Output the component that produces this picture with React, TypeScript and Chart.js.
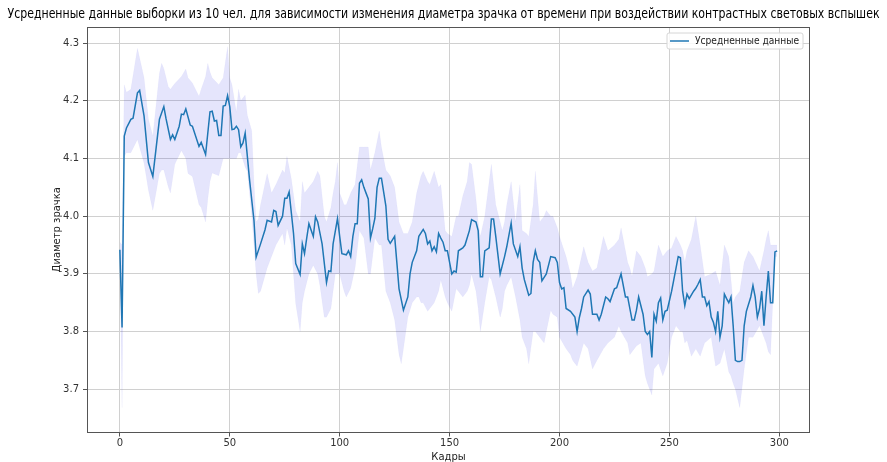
import React, { useEffect, useRef } from "react";
import { Chart, registerables } from "chart.js";

Chart.register(...registerables);

const chartTitle =
  "Усредненные данные выборки из 10 чел. для зависимости изменения диаметра зрачка от времени при воздействии контрастных световых вспышек";
const xAxisTitle = "Кадры";
const yAxisTitle = "Диаметр зрачка";
const seriesLabel = "Усредненные данные";

const xTicks = [0, 50, 100, 150, 200, 250, 300];
const yTicks = [3.7, 3.8, 3.9, 4.0, 4.1, 4.2, 4.3];

// mean line: frame numbers and values
const frames = [
  0, 1, 2, 3, 5, 6, 8, 9, 11, 13, 15, 18, 20, 21, 23, 24, 25, 27, 28, 29, 30, 32, 33, 36, 37, 39,
  41, 42, 43, 44, 45, 46, 47, 48, 49, 50, 51, 52, 53, 54, 55, 56, 57, 59, 61, 62, 64, 66, 67, 69,
  70, 71, 72, 74, 75, 76, 77, 79, 80, 82, 83, 84, 85, 86, 88, 89, 90, 92, 94, 95, 96, 97, 99, 100,
  101, 103, 104, 105, 106, 107, 108, 109, 110, 111, 112, 113, 114, 115, 116, 117, 118, 119, 121,
  122, 123, 125, 126, 127, 129, 131, 132, 133, 135, 136, 138, 139, 140, 141, 142, 143, 144, 145,
  146, 147, 148, 149, 150, 151, 152, 153, 154, 156, 157, 159, 160, 162, 163, 164, 165, 166, 168,
  169, 170, 171, 173, 175, 176, 178, 179, 181, 182, 183, 184, 186, 187, 188, 189, 190, 191, 192,
  194, 196, 198, 199, 200, 201, 202, 203, 205, 207, 208, 209, 210, 211, 213, 214, 215, 217, 218,
  219, 221, 222, 223, 225, 226, 227, 228, 230, 231, 233, 234, 235, 236, 238, 239, 240, 241, 242,
  243, 244, 245, 246, 247, 248, 249, 251, 252, 253, 254, 255, 256, 257, 258, 259, 261, 262, 263,
  264, 265, 266, 267, 268, 269, 270, 271, 272, 273, 274, 275, 276, 277, 278, 279, 280, 281, 282,
  283, 284, 285, 287, 288, 289, 290, 291, 292, 293, 294, 295, 296, 297, 298, 299,
];
const meanValues = [
  3.942, 3.807, 4.139, 4.153, 4.168, 4.17, 4.214, 4.218, 4.174, 4.093, 4.069, 4.168, 4.19, 4.169,
  4.133, 4.141, 4.133, 4.156, 4.177, 4.176, 4.186, 4.158, 4.156, 4.121, 4.128, 4.107, 4.181, 4.182,
  4.165, 4.166, 4.14, 4.14, 4.191, 4.192, 4.209, 4.19, 4.15, 4.151, 4.156, 4.15, 4.12, 4.127, 4.144,
  4.063, 3.993, 3.929, 3.952, 3.976, 3.993, 3.99, 4.01, 4.008, 3.984, 4.0, 4.031, 4.031, 4.042, 3.97,
  3.918, 3.899, 3.952, 3.935, 3.962, 3.987, 3.965, 3.999, 3.99, 3.952, 3.885, 3.905, 3.904, 3.952,
  3.996, 3.965, 3.935, 3.933, 3.94, 3.93, 3.965, 3.987, 3.987, 4.057, 4.063, 4.05, 4.04, 4.03,
  3.962, 3.978, 3.996, 4.05, 4.066, 4.066, 4.018, 3.96, 3.953, 3.965, 3.92, 3.874, 3.837, 3.86, 3.9,
  3.92, 3.94, 3.965, 3.977, 3.97, 3.952, 3.957, 3.94, 3.947, 3.938, 3.97, 3.962, 3.955, 3.94, 3.94,
  3.92, 3.9, 3.905, 3.903, 3.94, 3.945, 3.95, 3.975, 3.994, 3.99, 3.975, 3.895, 3.895, 3.94, 3.945,
  3.995, 3.995, 3.965, 3.9, 3.93, 3.947, 3.988, 3.952, 3.93, 3.947, 3.91, 3.89, 3.863, 3.866, 3.92,
  3.94, 3.925, 3.92, 3.888, 3.9, 3.93, 3.928, 3.92, 3.885, 3.874, 3.876, 3.84, 3.835, 3.825, 3.8,
  3.824, 3.84, 3.86, 3.872, 3.865, 3.83, 3.83, 3.82, 3.83, 3.86, 3.857, 3.852, 3.874, 3.876, 3.888,
  3.9, 3.86, 3.86, 3.82, 3.82, 3.837, 3.86, 3.83, 3.8, 3.795, 3.8, 3.755, 3.83, 3.818, 3.85, 3.858,
  3.82, 3.835, 3.837, 3.87, 3.89, 3.91, 3.93, 3.928, 3.87, 3.845, 3.865, 3.857, 3.87, 3.875, 3.882,
  3.89, 3.86, 3.86, 3.845, 3.852, 3.825, 3.816, 3.8, 3.835, 3.79, 3.81, 3.865, 3.857, 3.85, 3.86,
  3.81, 3.75, 3.748, 3.748, 3.75, 3.81, 3.835, 3.86, 3.88, 3.86, 3.825, 3.84, 3.87, 3.81, 3.86,
  3.905, 3.85, 3.85, 3.938, 3.94,
];

// shaded band: frame numbers, lower and upper edges
const bandFrames = [
  0, 1, 2, 3, 5, 8, 11, 13, 15, 18, 19, 20, 22, 23, 25, 28, 30, 31, 33, 36, 37, 39, 40, 41, 42, 45,
  47, 49, 50, 51, 53, 54, 55, 57, 58, 60, 61, 62, 63, 64, 67, 69, 71, 74, 75, 76, 78, 80, 82, 83,
  84, 86, 88, 90, 91, 93, 94, 96, 97, 98, 99, 100, 102, 103, 105, 107, 109, 111, 113, 114, 116, 118,
  119, 121, 123, 125, 127, 128, 129, 131, 133, 135, 136, 137, 138, 140, 141, 143, 145, 146, 148,
  149, 151, 153, 154, 156, 158, 159, 160, 162, 163, 164, 166, 168, 169, 171, 173, 174, 175, 176,
  178, 180, 182, 183, 185, 186, 188, 189, 191, 193, 194, 196, 197, 199, 200, 203, 205, 206, 208,
  211, 213, 215, 217, 220, 222, 225, 227, 228, 231, 232, 233, 235, 237, 239, 240, 242, 243, 245,
  247, 249, 251, 253, 255, 256, 257, 258, 260, 262, 264, 266, 269, 271, 273, 275, 277, 278, 279,
  280, 282, 284, 286, 287, 288, 291, 293, 294, 295, 296, 297, 298, 299,
];
const bandLow = [
  3.93, 3.668, 4.104, 4.11, 4.11, 4.133, 4.092, 4.045, 4.01, 4.074, 4.08, 4.08, 4.051, 4.04, 4.09,
  4.114, 4.1, 4.074, 4.069, 4.02, 4.015, 3.99, 4.03, 4.06, 4.075, 4.07, 4.1, 4.1, 4.1, 4.1, 4.1,
  4.11, 4.11, 4.085, 4.078, 4.0, 3.95, 3.9, 3.866, 3.87, 3.91, 3.93, 3.95, 3.97, 3.95, 3.98, 3.95,
  3.848, 3.8, 3.85, 3.87, 3.9, 3.915, 3.9, 3.88, 3.825, 3.825, 3.84, 3.87, 3.9, 3.9, 3.9, 3.87,
  3.86, 3.875, 3.91, 3.975, 3.962, 3.9, 3.9, 3.962, 3.95, 3.95, 3.87, 3.85, 3.82, 3.76, 3.744, 3.77,
  3.825, 3.85, 3.86, 3.86, 3.85, 3.85, 3.835, 3.84, 3.85, 3.87, 3.89, 3.86, 3.85, 3.835, 3.874,
  3.87, 3.86, 3.87, 3.88, 3.9, 3.87, 3.84, 3.8, 3.85, 3.895, 3.89, 3.86, 3.825, 3.84, 3.87, 3.88,
  3.895, 3.86, 3.82, 3.79, 3.77, 3.744, 3.8, 3.8, 3.79, 3.78, 3.8, 3.837, 3.83, 3.825, 3.79, 3.77,
  3.76, 3.75, 3.74, 3.78, 3.77, 3.735, 3.75, 3.77, 3.78, 3.79, 3.81, 3.8, 3.78, 3.76, 3.765, 3.775,
  3.78, 3.723, 3.71, 3.69, 3.735, 3.745, 3.723, 3.745, 3.79, 3.81, 3.8, 3.8, 3.78, 3.785, 3.757,
  3.77, 3.757, 3.78, 3.79, 3.74, 3.745, 3.77, 3.73, 3.723, 3.71, 3.7, 3.668, 3.735, 3.79, 3.79,
  3.79, 3.81, 3.79, 3.78, 3.765, 3.76, 3.85, 3.93, 3.93,
];
const bandHigh = [
  3.955, 3.95, 4.228, 4.215, 4.22, 4.291, 4.24, 4.168, 4.139, 4.248, 4.265, 4.256, 4.225, 4.22, 4.23,
  4.242, 4.255, 4.24, 4.231, 4.208, 4.22, 4.242, 4.265, 4.25, 4.24, 4.228, 4.24, 4.294, 4.24, 4.228,
  4.18, 4.22, 4.2, 4.21, 4.175, 4.148, 4.06, 3.99, 3.995, 4.02, 4.074, 4.04, 4.055, 4.08, 4.075,
  4.104, 4.065, 4.01, 3.99, 4.06, 4.04, 4.05, 4.06, 4.078, 4.07, 4.0, 3.99, 4.015, 4.04, 4.06, 4.093,
  4.04, 4.02, 4.02, 4.04, 4.055, 4.12, 4.12, 4.12, 4.08, 4.11, 4.148, 4.12, 4.08, 4.07, 4.05, 3.99,
  3.98, 3.97, 3.97, 3.99, 4.04, 4.055, 4.07, 4.078, 4.06, 4.055, 4.078, 4.05, 4.055, 3.975, 3.97,
  3.965, 4.0, 4.0, 4.035, 4.06, 4.093, 4.09, 4.03, 3.99, 3.965, 4.0, 4.06, 4.09, 4.02, 3.99, 3.975,
  3.99, 4.02, 4.06, 3.99, 4.055, 3.975, 3.97, 3.965, 4.02, 4.078, 3.99, 4.0, 4.01, 4.0, 4.0, 3.98,
  3.965, 3.93, 3.9, 3.874, 3.895, 3.947, 3.92, 3.905, 3.91, 3.965, 3.94, 3.95, 3.96, 3.98, 3.92,
  3.91, 3.895, 3.94, 3.93, 3.91, 3.895, 3.9, 3.905, 3.95, 3.93, 3.94, 3.945, 3.965, 3.95, 3.94,
  3.92, 3.94, 3.96, 4.0, 3.95, 3.895, 3.9, 3.905, 3.88, 3.95, 3.93, 3.89, 3.85, 3.86, 3.87, 3.92,
  3.94, 3.935, 3.93, 3.905, 3.94, 3.96, 3.975, 3.95, 3.95, 3.95, 3.95,
];

const FONT = "'DejaVu Sans', sans-serif";
const LINE_COLOR = "#1f77b4";

const legendBoxPlugin = {
  id: "legendBox",
  afterDraw(chart: any) {
    const { ctx, chartArea } = chart;
    ctx.save();
    // frame around the axes
    ctx.strokeStyle = "#555555";
    ctx.lineWidth = 1;
    ctx.strokeRect(
      Math.round(chartArea.left) + 0.5,
      Math.round(chartArea.top) + 0.5,
      Math.round(chartArea.right - chartArea.left) - 1,
      Math.round(chartArea.bottom - chartArea.top) - 1
    );
    // legend
    const label = chart.data.datasets[0].label;
    ctx.font = `10px ${FONT}`;
    const tw = Math.min(ctx.measureText(label).width, 104);
    const right = chartArea.right - 7;
    const top = chartArea.top + 6;
    const h = 16;
    const w = tw + 32;
    const left = right - w;
    const r = 2;
    ctx.beginPath();
    ctx.moveTo(left + r, top);
    ctx.lineTo(left + w - r, top);
    ctx.quadraticCurveTo(left + w, top, left + w, top + r);
    ctx.lineTo(left + w, top + h - r);
    ctx.quadraticCurveTo(left + w, top + h, left + w - r, top + h);
    ctx.lineTo(left + r, top + h);
    ctx.quadraticCurveTo(left, top + h, left, top + h - r);
    ctx.lineTo(left, top + r);
    ctx.quadraticCurveTo(left, top, left + r, top);
    ctx.closePath();
    ctx.fillStyle = "rgba(255,255,255,0.85)";
    ctx.fill();
    ctx.strokeStyle = "#d6d6d6";
    ctx.lineWidth = 1;
    ctx.stroke();
    const cy = top + h / 2;
    ctx.strokeStyle = LINE_COLOR;
    ctx.lineWidth = 1.5;
    ctx.beginPath();
    ctx.moveTo(left + 3, cy);
    ctx.lineTo(left + 22, cy);
    ctx.stroke();
    ctx.fillStyle = "#222222";
    ctx.textBaseline = "middle";
    ctx.textAlign = "left";
    ctx.fillText(label, left + 28, cy + 0.5, 104);
    ctx.restore();
  },
};

export default function App() {
  const canvasRef = useRef<HTMLCanvasElement | null>(null);

  useEffect(() => {
    const canvas = canvasRef.current;
    if (!canvas) return;
    const meanData = frames.map((x, i) => ({ x, y: meanValues[i] }));
    const lowData = bandFrames.map((x, i) => ({ x, y: bandLow[i] }));
    const highData = bandFrames.map((x, i) => ({ x, y: bandHigh[i] }));

    const chart = new Chart(canvas, {
      type: "line",
      data: {
        datasets: [
          {
            label: seriesLabel,
            data: meanData,
            borderColor: LINE_COLOR,
            borderWidth: 1.5,
            pointRadius: 0,
            fill: false,
            tension: 0,
          },
          {
            label: "low",
            data: lowData,
            borderColor: "rgba(40,40,230,0.05)",
            borderWidth: 0.5,
            pointRadius: 0,
            fill: false,
            tension: 0,
          },
          {
            label: "high",
            data: highData,
            borderColor: "rgba(40,40,230,0.05)",
            borderWidth: 0.5,
            pointRadius: 0,
            backgroundColor: "rgba(40,40,230,0.12)",
            fill: 1,
            tension: 0,
          },
        ],
      },
      options: {
        responsive: false,
        animation: false,
        events: [],
        layout: { padding: { left: 7.5, right: 7.5, top: 0, bottom: 0 } },
        plugins: {
          legend: { display: false },
          tooltip: { enabled: false },
          title: {
            display: true,
            text: chartTitle,
            color: "#000000",
            font: { family: FONT, size: 13.5, weight: "normal", lineHeight: 1.2 },
            padding: { top: 6, bottom: 4.8 },
          },
        },
        scales: {
          x: {
            type: "linear",
            min: -14.95,
            max: 313.95,
            afterBuildTicks: (scale: any) => {
              scale.ticks = xTicks.map((v) => ({ value: v }));
            },
            afterFit: (scale: any) => {
              scale.height = 29.5;
            },
            ticks: {
              color: "#333333",
              font: { family: FONT, size: 10 },
              padding: 1,
              maxRotation: 0,
              autoSkip: false,
              callback: (v: any) => String(v),
            },
            grid: {
              color: "#d0d0d0",
              lineWidth: 1,
              tickLength: 4,
              tickColor: "#555555",
            },
            border: { display: false },
            title: {
              display: true,
              text: xAxisTitle,
              color: "#222222",
              font: { family: FONT, size: 10, lineHeight: 1 },
              padding: { top: 0, bottom: 0 },
            },
          },
          y: {
            type: "linear",
            position: "left",
            min: 3.625,
            max: 4.328,
            afterBuildTicks: (scale: any) => {
              scale.ticks = yTicks.map((v) => ({ value: v }));
            },
            afterFit: (scale: any) => {
              scale.width = 79.5;
            },
            ticks: {
              color: "#333333",
              font: { family: FONT, size: 10 },
              padding: 4,
              autoSkip: false,
              callback: (v: any) => Number(v).toFixed(1),
            },
            grid: {
              color: "#d0d0d0",
              lineWidth: 1,
              tickLength: 4,
              tickColor: "#555555",
            },
            border: { display: false },
            title: {
              display: true,
              text: yAxisTitle,
              color: "#222222",
              font: { family: FONT, size: 10, lineHeight: 1.2 },
              padding: { top: 43.5, bottom: 0 },
            },
          },
          spacer: {
            type: "linear",
            position: "right",
            min: 0,
            max: 1,
            ticks: { display: false },
            grid: { display: false, drawOnChartArea: false },
            border: { display: false },
            afterFit: (scale: any) => {
              scale.width = 69.5;
            },
          },
        },
      },
      plugins: [legendBoxPlugin],
    } as any);

    return () => chart.destroy();
  }, []);

  return (
    <div style={{ position: "fixed", left: 0, top: 0, width: 887, height: 462, background: "#ffffff" }}>
      <canvas ref={canvasRef} width={887} height={462} style={{ display: "block" }} />
    </div>
  );
}
